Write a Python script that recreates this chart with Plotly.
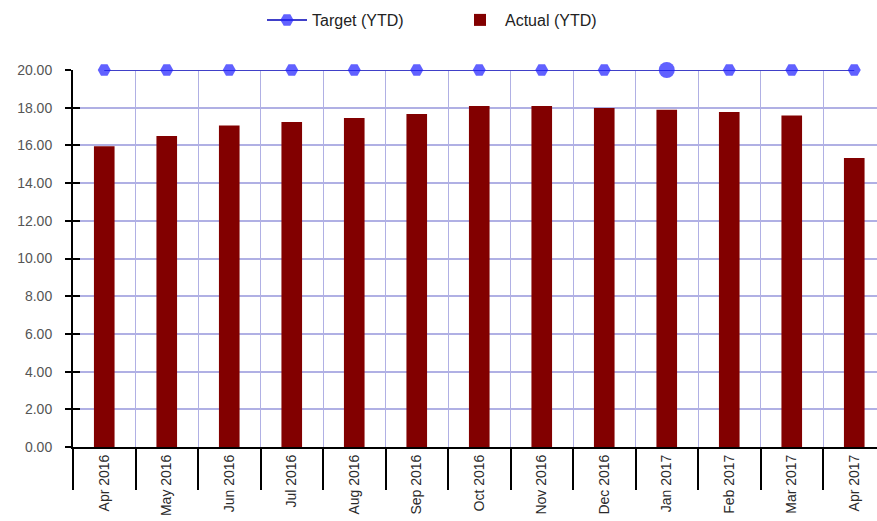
import plotly.graph_objects as go

months = ["Apr 2016", "May 2016", "Jun 2016", "Jul 2016", "Aug 2016", "Sep 2016",
          "Oct 2016", "Nov 2016", "Dec 2016", "Jan 2017", "Feb 2017", "Mar 2017", "Apr 2017"]
target_ytd = [20, 20, 20, 20, 20, 20, 20, 20, 20, 20, 20, 20, 20]
actual_ytd = [15.95, 16.5, 17.05, 17.24, 17.45, 17.67, 18.09, 18.09, 17.98, 17.89, 17.77, 17.58, 15.33]
y_ticks = [0, 2, 4, 6, 8, 10, 12, 14, 16, 18, 20]

xs = list(range(len(months)))
grid = "#b0b0e4"
font = "Liberation Sans, Arial, sans-serif"

# highlighted point (Jan 2017) drawn a little larger
sizes = [16 if m == "Jan 2017" else 13 for m in months]
symbols = ["circle" if m == "Jan 2017" else "hexagon2" for m in months]

fig = go.Figure()
fig.add_trace(go.Scatter(
    x=xs, y=target_ytd, name="Target (YTD)", mode="lines+markers",
    line=dict(color="#4040c8", width=2),
    marker=dict(color="#1e1eff", size=sizes, symbol=symbols, line=dict(width=0)),
    cliponaxis=False,
))
fig.add_trace(go.Bar(
    x=xs, y=actual_ytd, name="Actual (YTD)",
    marker=dict(color="#820000", line=dict(width=0)), width=0.33,
))
# helper trace on an overlay axis, for inner tick marks on the value axis
fig.add_trace(go.Scatter(x=[None], y=[None], yaxis="y2", showlegend=False, hoverinfo="skip"))

fig.update_layout(
    width=877, height=521,
    margin=dict(l=73, r=0, t=70, b=74),
    paper_bgcolor="white", plot_bgcolor="white",
    font=dict(family=font, size=14, color="#444"),
    showlegend=True,
    legend=dict(orientation="h", x=262 / 877, xanchor="left", xref="container",
                y=1 - 3 / 521, yanchor="top", yref="container",
                font=dict(family=font, size=16, color="#222"),
                traceorder="normal", itemwidth=40, entrywidth=138,
                bgcolor="rgba(0,0,0,0)"),
    xaxis=dict(
        range=[-0.5, 12.364], tickmode="array", tickvals=xs, ticktext=months,
        tickangle=-90, ticks="", showgrid=False, zeroline=False,
        showline=True, linecolor="black", linewidth=2,
        tickfont=dict(family=font, size=14, color="#2a2a2a"),
        minor=dict(tickmode="linear", tick0=-0.5, dtick=1, ticks="outside", ticklen=41,
                   tickcolor="black", tickwidth=2, showgrid=True, gridcolor=grid, gridwidth=1),
    ),
    yaxis=dict(
        range=[0, 20], tickmode="array", tickvals=y_ticks, tickformat=".2f",
        ticks="outside", ticklen=6, tickcolor="black", tickwidth=2,
        showline=True, linecolor="black", linewidth=2,
        showgrid=True, gridcolor=grid, gridwidth=1.5, zeroline=False,
        ticklabelstandoff=10,
        tickfont=dict(family=font, size=14, color="#555"),
    ),
    yaxis2=dict(
        range=[0, 20], overlaying="y", side="left", tickmode="array", tickvals=y_ticks,
        ticks="inside", ticklen=7, tickcolor="black", tickwidth=2,
        showticklabels=False, showgrid=False, zeroline=False, showline=False,
    ),
)

fig.write_html("out.html")
